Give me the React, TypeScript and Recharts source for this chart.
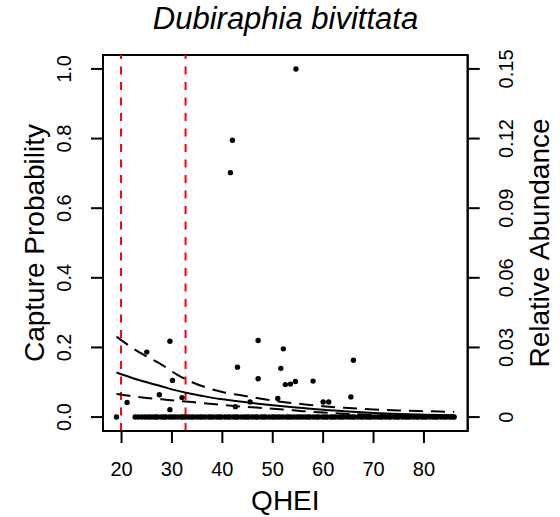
import React from "react";
import {
  ComposedChart,
  Line,
  Scatter,
  XAxis,
  YAxis,
  ReferenceLine,
  ReferenceArea,
} from "recharts";

const FONT = "'Liberation Sans', Arial, Helvetica, sans-serif";

// fitted capture probability curve with its confidence band
const curveX = [19, 22, 25, 28, 31, 34, 37, 40, 44, 48, 52, 56, 60, 65, 70, 75, 80, 86];
const fitY = [0.128, 0.113, 0.1, 0.088, 0.076, 0.066, 0.058, 0.051, 0.044, 0.037, 0.031, 0.026, 0.021, 0.016, 0.012, 0.009, 0.007, 0.005];
const upperY = [0.231, 0.2, 0.174, 0.15, 0.122, 0.1, 0.084, 0.072, 0.062, 0.052, 0.043, 0.037, 0.031, 0.026, 0.022, 0.019, 0.017, 0.015];
const lowerY = [0.066, 0.06, 0.055, 0.051, 0.047, 0.043, 0.039, 0.035, 0.03, 0.026, 0.022, 0.017, 0.013, 0.009, 0.006, 0.004, 0.003, 0.002];

// sites where the taxon was found (QHEI, relative abundance)
const presentX = [19.0, 21.1, 25.0, 29.6, 30.1, 27.5, 29.6, 32.0, 41.6, 42.0, 43.0, 42.6, 45.5, 47.1, 47.1, 51.0, 51.6, 52.1, 52.5, 53.5, 54.5, 54.6, 58.0, 60.0, 61.1, 65.5, 66.0];
const presentRA = [0, 0.0063, 0.028, 0.0327, 0.0158, 0.0096, 0.0032, 0.0084, 0.1053, 0.1193, 0.0215, 0.0045, 0.0065, 0.033, 0.0165, 0.008, 0.021, 0.0294, 0.014, 0.0142, 0.0153, 0.15, 0.0155, 0.0065, 0.0065, 0.0087, 0.0245];

// sites where it was absent
const absentX = [
  22.7, 23.3, 24.0, 24.6, 25.2, 25.7, 26.3, 26.8, 27.2, 27.9, 28.4, 28.8, 29.5, 30.0, 30.5,
  31.1, 31.8, 32.2, 32.7, 33.3, 33.9, 34.3, 35.0, 35.6, 36.0, 36.6, 37.3, 37.7, 38.2, 38.9,
  39.4, 39.8, 40.5, 41.1, 41.5, 42.2, 42.7, 43.1, 43.8, 44.4, 44.9, 45.3, 46.0, 46.6, 47.0,
  47.7, 48.2, 48.6, 49.3, 49.9, 50.3, 50.9, 51.4, 52.0, 52.7, 53.1, 53.6, 54.2, 54.8, 55.3,
  55.9, 56.5, 57.0, 57.4, 58.1, 58.7, 59.1, 59.8, 60.3, 60.8, 61.5, 61.9, 62.4, 63.1, 63.6,
  64.0, 64.7, 65.3, 65.8, 66.2, 66.9, 67.5, 67.9, 68.6, 69.1, 69.5, 70.2, 70.8, 71.3, 71.7,
  72.4, 73.0, 73.4, 74.1, 74.6, 75.0, 75.7, 76.3, 76.8, 77.2, 77.9, 78.5, 78.9, 79.6, 80.1,
  80.5, 81.2, 81.8, 82.3, 82.7, 83.4, 84.0, 84.4, 85.1, 85.6, 86.0,
];

const cutoffs = [19.9, 32.7];
const xTicks = [20, 30, 40, 50, 60, 70, 80];
const leftTicks = [0, 0.2, 0.4, 0.6, 0.8, 1.0];
const rightTicks = [0, 0.03, 0.06, 0.09, 0.12, 0.15];
const xDomain = [16.32, 88.68];
const cpDomain = [-0.04, 1.04];

const curveData = curveX.map((x, i) => ({
  x,
  fit: fitY[i],
  upper: upperY[i],
  lower: lowerY[i],
}));

const points = [
  ...presentX.map((x, i) => ({ x, ra: presentRA[i] })),
  ...absentX.map((x) => ({ x, ra: 0 })),
];

const RotTick = (props: any) => {
  const { x, y, payload, fmt } = props;
  return (
    <text
      x={x}
      y={y}
      transform={`rotate(-90 ${x} ${y})`}
      textAnchor="middle"
      fontSize={20}
      fontFamily={FONT}
      fill="#000"
    >
      {fmt(payload.value)}
    </text>
  );
};

const SideTitle = (props: any) => {
  const { viewBox, text, dx } = props;
  const x = viewBox.x + dx;
  const y = viewBox.y + viewBox.height / 2;
  return (
    <text
      x={x}
      y={y}
      transform={`rotate(-90 ${x} ${y})`}
      textAnchor="middle"
      fontSize={28}
      fontFamily={FONT}
      fill="#000"
    >
      {text}
    </text>
  );
};

const Dot = (props: any) => <circle cx={props.cx} cy={props.cy} r={2.7} fill="#000" />;

export default function App() {
  return (
    <div style={{ position: "absolute", left: 0, top: 0, width: 560, height: 517, background: "#fff" }}>
      <div
        style={{
          position: "absolute",
          left: 103,
          width: 365,
          top: 3,
          textAlign: "center",
          fontFamily: FONT,
          fontStyle: "italic",
          fontSize: 31,
          lineHeight: "31px",
          color: "#000",
        }}
      >
        Dubiraphia bivittata
      </div>
      <ComposedChart
        width={560}
        height={517}
        data={curveData}
        margin={{ top: 55, right: 0, bottom: 0, left: 0 }}
      >
        <XAxis
          dataKey="x"
          type="number"
          domain={xDomain}
          ticks={xTicks}
          allowDataOverflow
          height={86}
          stroke="#000"
          strokeWidth={2}
          tickSize={12}
          tickMargin={19}
          tick={{ fontSize: 20, fontFamily: FONT, fill: "#000" }}
          label={{ value: "QHEI", position: "insideBottom", offset: 7, fontSize: 28, fontFamily: FONT, fill: "#000" }}
        />
        <YAxis
          yAxisId="cp"
          type="number"
          domain={cpDomain}
          ticks={leftTicks}
          allowDataOverflow
          width={103}
          stroke="#000"
          strokeWidth={2}
          tickSize={12}
          tickMargin={19.5}
          tick={<RotTick fmt={(v: number) => v.toFixed(1)} />}
          label={<SideTitle text="Capture Probability" dx={44} />}
        />
        <YAxis
          yAxisId="ra"
          orientation="right"
          dataKey="ra"
          type="number"
          domain={[-0.006, 0.156]}
          ticks={rightTicks}
          allowDataOverflow
          width={92.3}
          stroke="#000"
          strokeWidth={2}
          tickSize={12}
          tickMargin={33.3}
          tick={<RotTick fmt={(v: number) => (v === 0 ? "0" : v.toFixed(2))} />}
          label={<SideTitle text="Relative Abundance" dx={81.3} />}
        />
        <ReferenceArea
          yAxisId="cp"
          x1={xDomain[0]}
          x2={xDomain[1]}
          y1={cpDomain[0]}
          y2={cpDomain[1]}
          fill="none"
          fillOpacity={0}
          stroke="#000"
          strokeWidth={2}
          ifOverflow="visible"
        />
        {cutoffs.map((c) => (
          <ReferenceLine
            key={c}
            x={c}
            yAxisId="cp"
            stroke="#ff0000"
            strokeWidth={2}
            strokeDasharray="8 7.5"
          />
        ))}
        <Line yAxisId="cp" dataKey="upper" type="monotone" stroke="#000" strokeWidth={2} strokeDasharray="14 8" dot={false} isAnimationActive={false} />
        <Line yAxisId="cp" dataKey="fit" type="monotone" stroke="#000" strokeWidth={2} dot={false} isAnimationActive={false} />
        <Line yAxisId="cp" dataKey="lower" type="monotone" stroke="#000" strokeWidth={2} strokeDasharray="14 8" dot={false} isAnimationActive={false} />
        <Scatter yAxisId="ra" data={points} dataKey="ra" shape={<Dot />} isAnimationActive={false} />
      </ComposedChart>
    </div>
  );
}
